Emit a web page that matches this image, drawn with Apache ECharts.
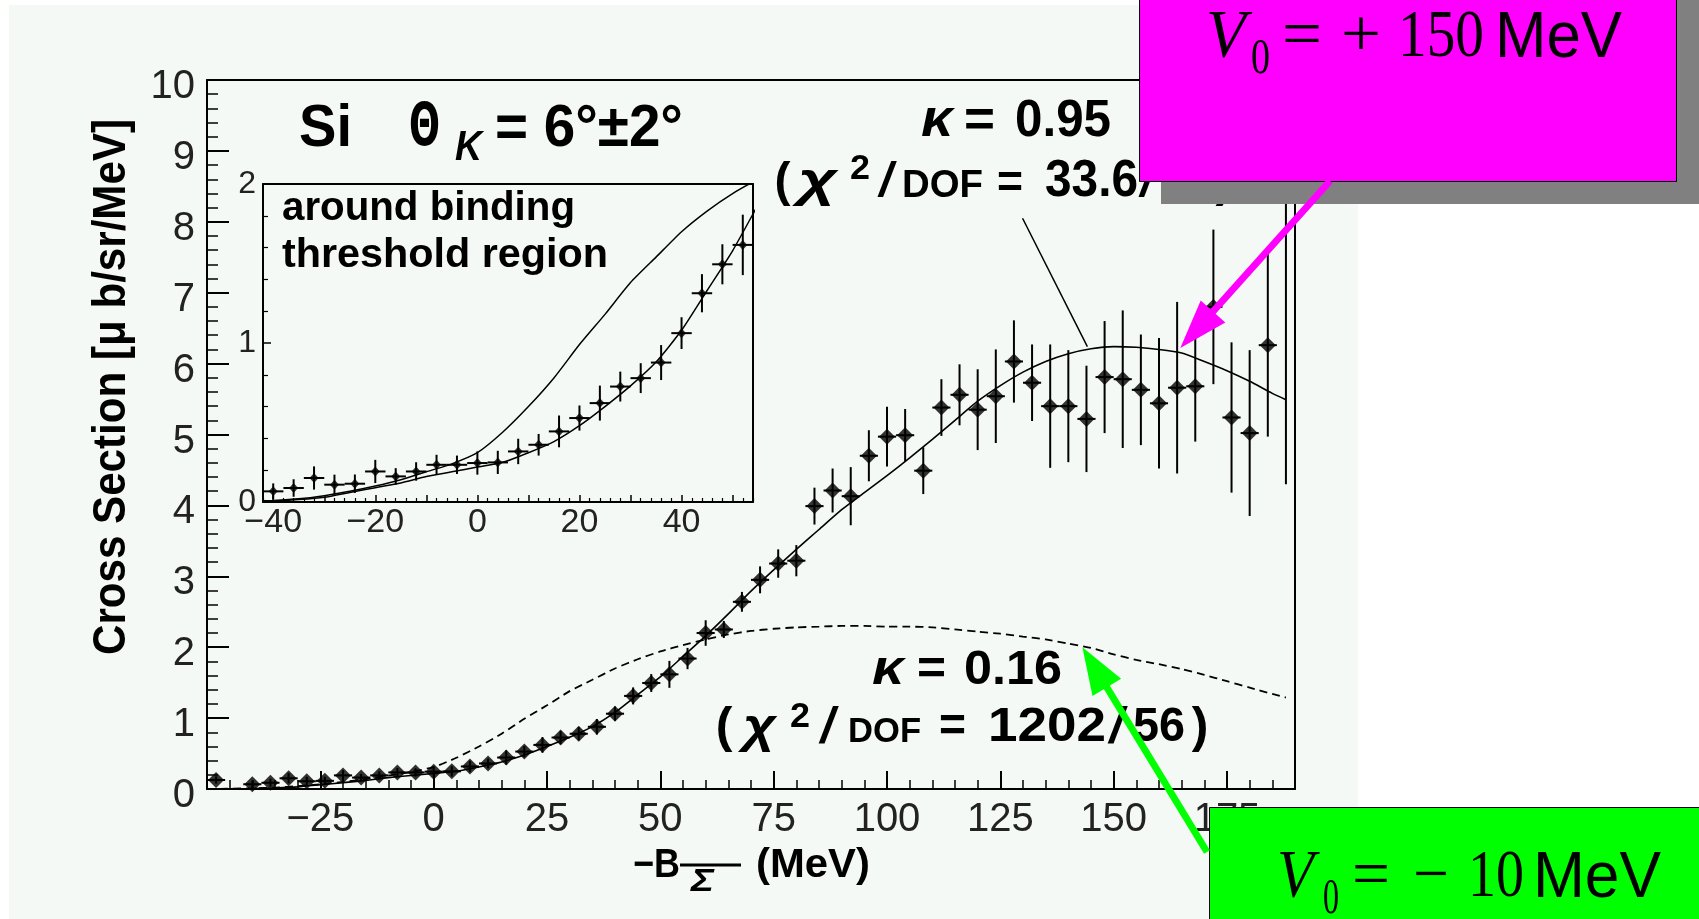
<!DOCTYPE html>
<html>
<head>
<meta charset="utf-8">
<script src="https://cdn.jsdelivr.net/npm/echarts@6/dist/echarts.min.js"></script>
<style>
  html, body { margin: 0; padding: 0; background: #ffffff; }
  #chart { width: 1699px; height: 919px; }
</style>
</head>
<body>
<div id="chart"></div>
<script>
// (K-, pi+) spectrum on Si, binned in 4 MeV steps of -B_Sigma
const energies = [-48, -40, -36, -32, -28, -24, -20, -16, -12, -8, -4, 0, 4, 8, 12, 16, 20, 24, 28, 32,
  36, 40, 44, 48, 52, 56, 60, 64, 68, 72, 76, 80, 84, 88, 92, 96, 100, 104, 108, 112,
  116, 120, 124, 128, 132, 136, 140, 144, 148, 152, 156, 160, 164, 168, 172, 176, 180, 184, 188];
const crossSection = [0.127, 0.067, 0.088, 0.151, 0.109, 0.115, 0.192, 0.161, 0.192, 0.234, 0.234, 0.245, 0.249, 0.318, 0.360, 0.444, 0.528, 0.622, 0.726, 0.779,
  0.877, 1.062, 1.313, 1.495, 1.617, 1.84, 2.20, 2.25, 2.64, 2.95, 3.18, 3.22, 3.99, 4.21, 4.13, 4.70, 4.97, 4.99, 4.49, 5.38,
  5.56, 5.35, 5.54, 6.03, 5.73, 5.40, 5.40, 5.22, 5.81, 5.78, 5.63, 5.44, 5.66, 5.68, 6.80, 5.24, 5.02, 6.26, 8.70];
const crossSectionErr = [0.05, 0.05, 0.055, 0.073, 0.063, 0.058, 0.073, 0.052, 0.058, 0.063, 0.058, 0.073, 0.073, 0.08, 0.068, 0.10, 0.079, 0.11, 0.094, 0.094,
  0.11, 0.10, 0.12, 0.126, 0.19, 0.15, 0.18, 0.12, 0.14, 0.19, 0.20, 0.22, 0.26, 0.31, 0.41, 0.36, 0.42, 0.37, 0.33, 0.40,
  0.43, 0.57, 0.66, 0.58, 0.54, 0.87, 0.79, 0.75, 0.79, 0.97, 0.78, 0.92, 1.21, 0.78, 1.09, 1.06, 1.17, 1.29, 4.40];

// DWIA calculations (solid: kappa = 0.95, dashed: kappa = 0.16)
const calcEnergies = [-50, -45, -40, -35, -30, -25, -20, -15, -10, -5, 0, 5, 10, 15, 20, 25, 30, 35, 40, 45,
  50, 55, 60, 65, 70, 75, 80, 85, 90, 95, 100, 105, 110, 115, 120, 125, 130, 135, 140, 145,
  150, 155, 160, 165, 170, 175, 180, 185, 188];
const calcKappa095 = [0.0, 0.002, 0.005, 0.015, 0.03, 0.06, 0.09, 0.12, 0.16, 0.19, 0.22, 0.25, 0.31, 0.38, 0.48, 0.60, 0.73, 0.88, 1.08, 1.33,
  1.58, 1.87, 2.16, 2.47, 2.79, 3.09, 3.38, 3.66, 3.94, 4.18, 4.42, 4.67, 4.93, 5.20, 5.47, 5.69, 5.88, 6.03, 6.14, 6.21,
  6.24, 6.23, 6.20, 6.15, 6.03, 5.90, 5.75, 5.58, 5.49];
const calcKappa016 = [0.0, 0.004, 0.01, 0.02, 0.04, 0.067, 0.10, 0.14, 0.19, 0.24, 0.31, 0.44, 0.60, 0.78, 0.99, 1.18, 1.38, 1.54, 1.70, 1.83,
  1.94, 2.03, 2.11, 2.18, 2.23, 2.26, 2.28, 2.29, 2.30, 2.30, 2.29, 2.29, 2.28, 2.25, 2.22, 2.19, 2.15, 2.11, 2.05, 1.99,
  1.90, 1.82, 1.76, 1.69, 1.61, 1.52, 1.43, 1.34, 1.29];

// tick labels
const mainXTickLabels = [-25, 0, 25, 50, 75, 100, 125, 150, 175];
const insetXTickLabels = [-40, -20, 0, 20, 40];
const insetXMajorTicks = [-40, -30, -20, -10, 0, 10, 20, 30, 40, 50];
const insetXMinorTicks = [-42, -38, -36, -34, -32, -28, -26, -24, -22, -18, -16, -14, -12, -8, -6, -4, -2,
  2, 4, 6, 8, 12, 14, 16, 18, 22, 24, 26, 28, 32, 34, 36, 38, 42, 44, 46, 48, 52, 54];

const PANEL = '#f5f9f5';
const SANS = "'Liberation Sans', Arial, Helvetica, sans-serif";
const SERIF = "'Liberation Serif', 'Times New Roman', serif";
const BIN_HALF = 2;

const points = energies.map((e, i) => [e, crossSection[i], crossSectionErr[i]]);
const curve095 = calcEnergies.map((e, i) => [e, calcKappa095[i]]);
const curve016 = calcEnergies.map((e, i) => [e, calcKappa016[i]]);
const insetPoints = points.filter(p => p[0] >= -42 && p[0] <= 54);

const minus = v => String(v).replace('-', '\u2212');

function errorBars(lw) {
  return function (params, api) {
    const x = api.value(0), y = api.value(1), e = api.value(2);
    const top = api.coord([x, y + e]);
    const bot = api.coord([x, y - e]);
    const l = api.coord([x - BIN_HALF, y]);
    const r = api.coord([x + BIN_HALF, y]);
    return {
      type: 'group',
      children: [
        { type: 'line', shape: { x1: top[0], y1: top[1], x2: bot[0], y2: bot[1] }, style: { stroke: '#000', lineWidth: lw } },
        { type: 'line', shape: { x1: l[0], y1: l[1], x2: r[0], y2: r[1] }, style: { stroke: '#000', lineWidth: lw } }
      ]
    };
  };
}

function frameAxis(gridIndex, position, min, max) {
  return {
    gridIndex, type: 'value', position, min, max,
    axisLine: { show: true, onZero: false, lineStyle: { color: '#000', width: 2 } },
    axisTick: { show: false }, axisLabel: { show: false }, splitLine: { show: false }
  };
}

const chart = echarts.init(document.getElementById('chart'), null, { renderer: 'canvas' });

const option = {
  backgroundColor: '#ffffff',
  animation: false,
  grid: [
    { left: 207, top: 80, width: 1088, height: 709, show: false },
    { left: 263, top: 184, width: 490, height: 318, show: false }
  ],
  xAxis: [
    {
      gridIndex: 0, type: 'value', position: 'bottom', min: -50, max: 190, interval: 25,
      axisLine: { show: true, onZero: false, lineStyle: { color: '#000', width: 2 } },
      axisTick: { show: true, inside: true, length: 18, lineStyle: { color: '#000', width: 2 } },
      minorTick: { show: true, splitNumber: 5, length: 9, lineStyle: { color: '#000', width: 1.5 } },
      axisLabel: { customValues: mainXTickLabels, formatter: minus, fontFamily: SANS, fontSize: 40, color: '#222', margin: 11 },
      splitLine: { show: false }, minorSplitLine: { show: false }
    },
    frameAxis(0, 'top', -50, 190),
    {
      gridIndex: 1, type: 'value', position: 'bottom', min: -42, max: 54,
      axisLine: { show: true, onZero: false, lineStyle: { color: '#000', width: 2 } },
      axisTick: { show: true, inside: true, length: 7, customValues: insetXMajorTicks, lineStyle: { color: '#000', width: 1.5 } },
      axisLabel: { customValues: insetXTickLabels, formatter: minus, fontFamily: SANS, fontSize: 34, color: '#222', margin: 4 },
      splitLine: { show: false }
    },
    {
      gridIndex: 1, type: 'value', position: 'bottom', min: -42, max: 54,
      axisLine: { show: false },
      axisTick: { show: true, inside: true, length: 4, customValues: insetXMinorTicks, lineStyle: { color: '#000', width: 1.2 } },
      axisLabel: { show: false }, splitLine: { show: false }
    },
    frameAxis(1, 'top', -42, 54)
  ],
  yAxis: [
    {
      gridIndex: 0, type: 'value', position: 'left', min: 0, max: 10, interval: 1,
      axisLine: { show: true, onZero: false, lineStyle: { color: '#000', width: 2 } },
      axisTick: { show: true, inside: true, length: 22, lineStyle: { color: '#000', width: 2 } },
      minorTick: { show: true, splitNumber: 5, length: 11, lineStyle: { color: '#000', width: 1.5 } },
      axisLabel: {
        margin: 12, formatter: v => '{t|' + v + '}',
        rich: { t: { fontFamily: SANS, fontSize: 40, color: '#222', padding: [14, 0, 0, 0] } }
      },
      splitLine: { show: false }
    },
    frameAxis(0, 'right', 0, 10),
    {
      gridIndex: 1, type: 'value', position: 'left', min: 0, max: 2, interval: 1,
      axisLine: { show: true, onZero: false, lineStyle: { color: '#000', width: 2 } },
      axisTick: { show: true, inside: true, length: 8, lineStyle: { color: '#000', width: 1.5 } },
      minorTick: { show: true, splitNumber: 5, length: 5, lineStyle: { color: '#000', width: 1.2 } },
      axisLabel: { fontFamily: SANS, fontSize: 32, color: '#222', margin: 7 },
      splitLine: { show: false }
    },
    frameAxis(1, 'right', 0, 2)
  ],
  series: [
    {
      name: 'kappa 0.16', type: 'line', xAxisIndex: 0, yAxisIndex: 0, data: curve016,
      showSymbol: false, smooth: 0.2, silent: true, z: 2,
      lineStyle: { color: '#000', width: 1.8, type: [8, 5] }
    },
    {
      name: 'kappa 0.95', type: 'line', xAxisIndex: 0, yAxisIndex: 0, data: curve095,
      showSymbol: false, smooth: 0.2, silent: true, z: 2,
      lineStyle: { color: '#000', width: 1.6 }
    },
    {
      name: 'errors', type: 'custom', xAxisIndex: 0, yAxisIndex: 0, data: points,
      renderItem: errorBars(2), clip: true, silent: true, z: 3,
      encode: { x: 0, y: 1 }
    },
    {
      name: 'data', type: 'scatter', xAxisIndex: 0, yAxisIndex: 0,
      data: points.map(p => [p[0], p[1]]), symbol: 'diamond', symbolSize: [16, 16],
      itemStyle: { color: '#000' }, silent: true, z: 4, clip: true
    },
    {
      name: 'inset kappa 0.16', type: 'line', xAxisIndex: 2, yAxisIndex: 2, data: curve016,
      showSymbol: false, smooth: 0.2, silent: true, clip: true, z: 2,
      lineStyle: { color: '#000', width: 1.5 }
    },
    {
      name: 'inset kappa 0.95', type: 'line', xAxisIndex: 2, yAxisIndex: 2, data: curve095,
      showSymbol: false, smooth: 0.2, silent: true, clip: true, z: 2,
      lineStyle: { color: '#000', width: 1.5 }
    },
    {
      name: 'inset errors', type: 'custom', xAxisIndex: 2, yAxisIndex: 2, data: insetPoints,
      renderItem: errorBars(2), clip: true, silent: true, z: 3,
      encode: { x: 0, y: 1 }
    },
    {
      name: 'inset data', type: 'scatter', xAxisIndex: 2, yAxisIndex: 2,
      data: insetPoints.map(p => [p[0], p[1]]), symbol: 'diamond', symbolSize: [9, 10],
      itemStyle: { color: '#000' }, silent: true, z: 4
    }
  ]
};

chart.setOption(option);

// ---- annotations ----
const measureCtx = document.createElement('canvas').getContext('2d');

// Text placed by its left edge and baseline; when `right` is given the run is
// stretched to that width, when opts.center is set it is centred in [left, right].
function txt(str, left, right, baseline, size, opts) {
  opts = opts || {};
  const weight = opts.weight || 'bold';
  const fstyle = opts.style || 'normal';
  const family = opts.family || SANS;
  const sy = opts.scaleY || 1;
  measureCtx.font = fstyle + ' ' + weight + ' ' + size + 'px ' + family;
  const w = measureCtx.measureText(str).width;
  let sx = 1, x = left;
  if (right != null) {
    if (opts.center) x = (left + right) / 2 - w / 2;
    else sx = (right - left) / w;
  }
  return {
    type: 'text', x, y: baseline - 0.35 * size * sy, scaleX: sx, scaleY: sy, z: opts.z || 50, silent: true,
    style: {
      text: str, fill: opts.fill || '#000', align: 'left', verticalAlign: 'middle',
      fontSize: size, fontWeight: weight, fontStyle: fstyle, fontFamily: family
    }
  };
}

function arrow(from, tip, color, shaftW, headLen, headHalf, z) {
  const dx = tip[0] - from[0], dy = tip[1] - from[1];
  const len = Math.hypot(dx, dy);
  const ux = dx / len, uy = dy / len, nx = -uy, ny = ux;
  const bx = tip[0] - ux * headLen, by = tip[1] - uy * headLen;
  return [
    { type: 'line', z, silent: true, shape: { x1: from[0], y1: from[1], x2: bx + ux * 3, y2: by + uy * 3 },
      style: { stroke: color, lineWidth: shaftW } },
    { type: 'polygon', z, silent: true,
      shape: { points: [tip, [bx + nx * headHalf, by + ny * headHalf], [bx - nx * headHalf, by - ny * headHalf]] },
      style: { fill: color } }
  ];
}

const px = p => chart.convertToPixel({ gridIndex: 0 }, p);
const pointerFrom = px([129.9, 8.05]);
const pointerTo = px([144.2, 6.24]);
const magentaTip = px([164.7, 6.22]);
const greenTip = px([143.1, 2.0]);

const yTitle = txt('Cross Section [\u03bc b/sr/MeV]', 0, 536, 0, 46);
yTitle.x = 112.5; yTitle.y = 655; yTitle.rotation = Math.PI / 2;

const elements = [
  { type: 'rect', z: -10, silent: true, shape: { x: 9, y: 5, width: 1349, height: 914 }, style: { fill: PANEL } },

  // panel header
  txt('Si', 299, 352, 150, 60),
  txt('\u0398', 409, 440, 150, 44, { scaleY: 1.35, family: "'DejaVu Sans', " + SANS }),
  txt('K', 455, 482, 163, 42, { style: 'italic' }),
  txt('= 6\u00b0\u00b12\u00b0', 495, 683, 150, 60),

  // kappa = 0.95 label
  txt('\u03ba', 921, 953, 140, 52, { style: 'italic' }),
  txt('=', 964, 995, 140, 52),
  txt('0.95', 1015, 1111, 140, 52),
  txt('(', 775, 790, 200, 48, { center: true }),
  txt('\u03c7', 798, 837, 200, 48, { style: 'italic' }),
  txt('2', 850, 870, 182, 35),
  txt('/', 872, 900, 200, 48, { center: true, style: 'italic' }),
  txt('DOF', 902, 983, 200, 38),
  txt('=', 997, 1023, 200, 46),
  txt('33.6', 1045, 1138, 200, 52),
  txt('/', 1134, 1160, 200, 48, { center: true, style: 'italic' }),
  txt('56)', 1160, null, 200, 50),
  { type: 'line', z: 40, silent: true, shape: { x1: pointerFrom[0], y1: pointerFrom[1], x2: pointerTo[0], y2: pointerTo[1] },
    style: { stroke: '#000', lineWidth: 1.5 } },

  // kappa = 0.16 label
  txt('\u03ba', 872, 904, 688, 49, { style: 'italic' }),
  txt('=', 917, 946, 688, 49),
  txt('0.16', 964, 1062, 688, 49),
  txt('(', 716, 732, 746, 50, { center: true }),
  txt('\u03c7', 743, 776, 746, 48, { style: 'italic' }),
  txt('2', 790, 810, 730, 35),
  txt('/', 812, 843, 746, 50, { center: true, style: 'italic' }),
  txt('DOF', 848, 921, 745, 35),
  txt('=', 939, 966, 745, 48),
  txt('1202', 988, 1106, 745, 49),
  txt('/', 1104, 1129, 746, 50, { center: true, style: 'italic' }),
  txt('56', 1133, 1185, 745, 49),
  txt(')', 1192, 1208, 746, 50, { center: true }),

  // inset caption
  txt('around binding', 282, 575, 223, 40),
  txt('threshold region', 282, 608, 270, 40),

  // axis titles
  yTitle,
  txt('\u2212B', 633, 680, 880, 40),
  txt('\u03a3', 691, 714, 893, 32, { style: 'italic' }),
  { type: 'rect', z: 50, silent: true, shape: { x: 680, y: 863.5, width: 61, height: 3 }, style: { fill: '#000' } },
  txt('(MeV)', 756, 870, 880, 40),

  // V0 = +150 MeV callout
  { type: 'rect', z: 60, silent: true, shape: { x: 1161, y: 0, width: 540, height: 204 }, style: { fill: '#808080' } },
  { type: 'rect', z: 61, silent: true, shape: { x: 1139.5, y: -5, width: 537, height: 186.5 },
    style: { fill: '#ff00ff', stroke: '#000', lineWidth: 1 } },
  txt('V', 1206, 1246, 62, 68, { family: SERIF, weight: 'normal', style: 'italic', z: 62 }),
  txt('0', 1251, 1270, 77, 50, { family: SERIF, weight: 'normal', z: 62 }),
  txt('=', 1282, 1322, 62, 68, { family: SERIF, weight: 'normal', z: 62 }),
  txt('+', 1341, 1381, 62, 68, { family: SERIF, weight: 'normal', z: 62 }),
  txt('150', 1398, 1484, 62, 68, { family: SERIF, weight: 'normal', z: 62 }),
  txt('MeV', 1495, 1622, 62, 65, { weight: 'normal', z: 62 }),
  ...arrow([1330, 181], magentaTip, '#ff00ff', 7, 49, 16.5, 63),

  // V0 = -10 MeV callout
  { type: 'rect', z: 61, silent: true, shape: { x: 1209.5, y: 807.5, width: 520, height: 130 },
    style: { fill: '#00ff00', stroke: '#000', lineWidth: 1 } },
  txt('V', 1277, 1314, 902, 68, { family: SERIF, weight: 'normal', style: 'italic', z: 62 }),
  txt('0', 1323, 1339, 917, 50, { family: SERIF, weight: 'normal', z: 62 }),
  txt('=', 1352, 1390, 902, 68, { family: SERIF, weight: 'normal', z: 62 }),
  txt('\u2212', 1413, 1449, 902, 68, { family: SERIF, weight: 'normal', z: 62 }),
  txt('10', 1468, 1524, 902, 68, { family: SERIF, weight: 'normal', z: 62 }),
  txt('MeV', 1533, 1661, 902, 65, { weight: 'normal', z: 62 }),
  ...arrow([1207, 852], greenTip, '#00ff00', 7, 47, 16.75, 63)
];

chart.setOption({ graphic: { elements } });
</script>
</body>
</html>
